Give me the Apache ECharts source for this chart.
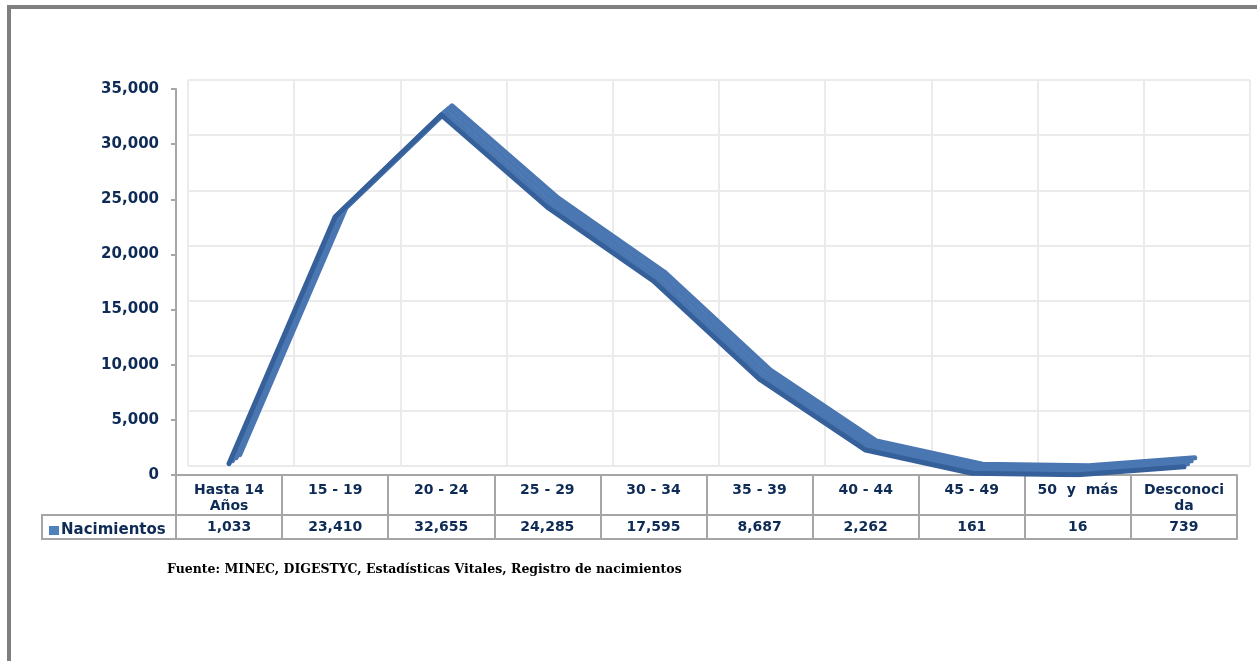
<!DOCTYPE html>
<html>
<head>
<meta charset="utf-8">
<script src="https://cdn.jsdelivr.net/npm/echarts@6/dist/echarts.min.js"></script>
<style>
  html, body { margin: 0; padding: 0; background: #fff; }
  .frame {
    position: absolute; left: 7px; top: 5px; width: 1260px; height: 670px;
    border-top: 4px solid #7f7f7f; border-left: 4px solid #7f7f7f;
  }
  #chart { position: absolute; left: 0; top: 0; width: 1257px; height: 661px; }
</style>
</head>
<body>
<div class="frame"></div>
<div id="chart"></div>
<script>
const categories = ['Hasta 14\nAños', '15 - 19', '20 - 24', '25 - 29', '30 - 34', '35 - 39', '40 - 44', '45 - 49', '50  y  más', 'Desconoci\nda']
const nacimientos = [1033, 23410, 32655, 24285, 17595, 8687, 2262, 161, 16, 739]
const yTicks = [0, 5000, 10000, 15000, 20000, 25000, 30000, 35000]

const navy = '#0e2b55'
const gridGray = '#a6a6a6'
const fmt = (v) => v.toLocaleString('en-US')

const chart = echarts.init(document.getElementById('chart'))

// 3d-ish ribbon: same data drawn on a few grids shifted toward the back wall
const depth = [0, 3, 6, 9]
const ribbonGrids = depth.map((d) => ({
  left: 176 + d * 1.2, right: 20 - d * 1.2, top: 89 - d, bottom: 186 + d
}))

const option = {
  animation: false,
  title: {
    text: 'Fuente: MINEC, DIGESTYC, Estadísticas Vitales, Registro de nacimientos',
    left: 162, top: 558,
    textStyle: { fontFamily: 'DejaVu Serif', fontWeight: 'bold', fontSize: 12.5, color: '#000' }
  },
  legend: {
    data: ['Nacimientos'],
    left: 44, top: 518,
    icon: 'rect', itemWidth: 10, itemHeight: 9, itemGap: 2,
    textStyle: { fontFamily: 'DejaVu Sans', fontWeight: 'bold', fontSize: 15, color: navy, padding: [0, 0, 0, -3] }
  },
  graphic: [{
    type: 'rect',
    shape: { x: 42, y: 515, width: 134, height: 24 },
    style: { fill: 'none', stroke: gridGray, lineWidth: 2 }
  }],
  grid: [
    // front: axes + data table
    { left: 176, right: 20, top: 89, bottom: 186 },
    // back wall
    { left: 188, right: 7, top: 80, bottom: 195 },
    ...ribbonGrids
  ],
  xAxis: [
    {
      gridIndex: 0, type: 'category', data: categories, boundaryGap: true,
      axisLine: { lineStyle: { color: gridGray, width: 2 } },
      axisTick: { show: true, interval: 0, length: 64, lineStyle: { color: gridGray, width: 2 } },
      axisLabel: {
        interval: 0, margin: 7, lineHeight: 16, verticalAlign: 'top',
        fontFamily: 'DejaVu Sans', fontWeight: 'bold', fontSize: 14, color: navy
      },
      splitLine: { show: false }
    },
    {
      gridIndex: 0, type: 'category', position: 'bottom', offset: 40,
      data: nacimientos.map(fmt), boundaryGap: true,
      axisLine: { lineStyle: { color: gridGray, width: 2 } },
      axisTick: { show: false },
      axisLabel: {
        interval: 0, margin: 5, verticalAlign: 'top',
        fontFamily: 'DejaVu Sans', fontWeight: 'bold', fontSize: 14, color: navy
      }
    },
    {
      gridIndex: 0, type: 'category', position: 'bottom', offset: 64,
      data: categories, boundaryGap: true,
      axisLine: { lineStyle: { color: gridGray, width: 2 } },
      axisTick: { show: false }, axisLabel: { show: false }
    },
    {
      gridIndex: 1, type: 'category', data: categories, boundaryGap: true,
      axisLine: { show: false }, axisTick: { show: false }, axisLabel: { show: false },
      splitLine: { show: true, interval: 0, lineStyle: { color: '#ebebeb', width: 2 } }
    },
    ...ribbonGrids.map((g, i) => ({
      gridIndex: i + 2, type: 'category', data: categories, boundaryGap: true, show: false
    }))
  ],
  yAxis: [
    {
      gridIndex: 0, type: 'value', min: 0, max: 35000, interval: 5000,
      axisLine: { show: true, lineStyle: { color: gridGray, width: 2 } },
      axisTick: { show: true, length: 5, lineStyle: { color: gridGray, width: 2 } },
      axisLabel: {
        margin: 17, formatter: (v) => yTicks.includes(v) ? fmt(v) : '',
        fontFamily: 'DejaVu Sans', fontWeight: 'bold', fontSize: 15, color: navy
      },
      splitLine: { show: false }
    },
    {
      gridIndex: 1, type: 'value', min: 0, max: 35000, interval: 5000,
      axisLine: { show: false }, axisTick: { show: false }, axisLabel: { show: false },
      splitLine: { show: true, lineStyle: { color: '#ebebeb', width: 2 } }
    },
    ...ribbonGrids.map((g, i) => ({
      gridIndex: i + 2, type: 'value', min: 0, max: 35000, show: false, splitLine: { show: false }
    }))
  ],
  series: depth.map((d, i) => ({
    name: 'Nacimientos',
    type: 'line',
    xAxisIndex: i + 4, yAxisIndex: i + 2,
    data: nacimientos,
    symbol: 'none',
    z: 10 - i,
    lineStyle: { width: 5, color: i === 0 ? '#36609a' : '#4a77b2', cap: 'round', join: 'round' },
    itemStyle: { color: '#4f81bd' }
  }))
}

chart.setOption(option)
</script>
</body>
</html>
